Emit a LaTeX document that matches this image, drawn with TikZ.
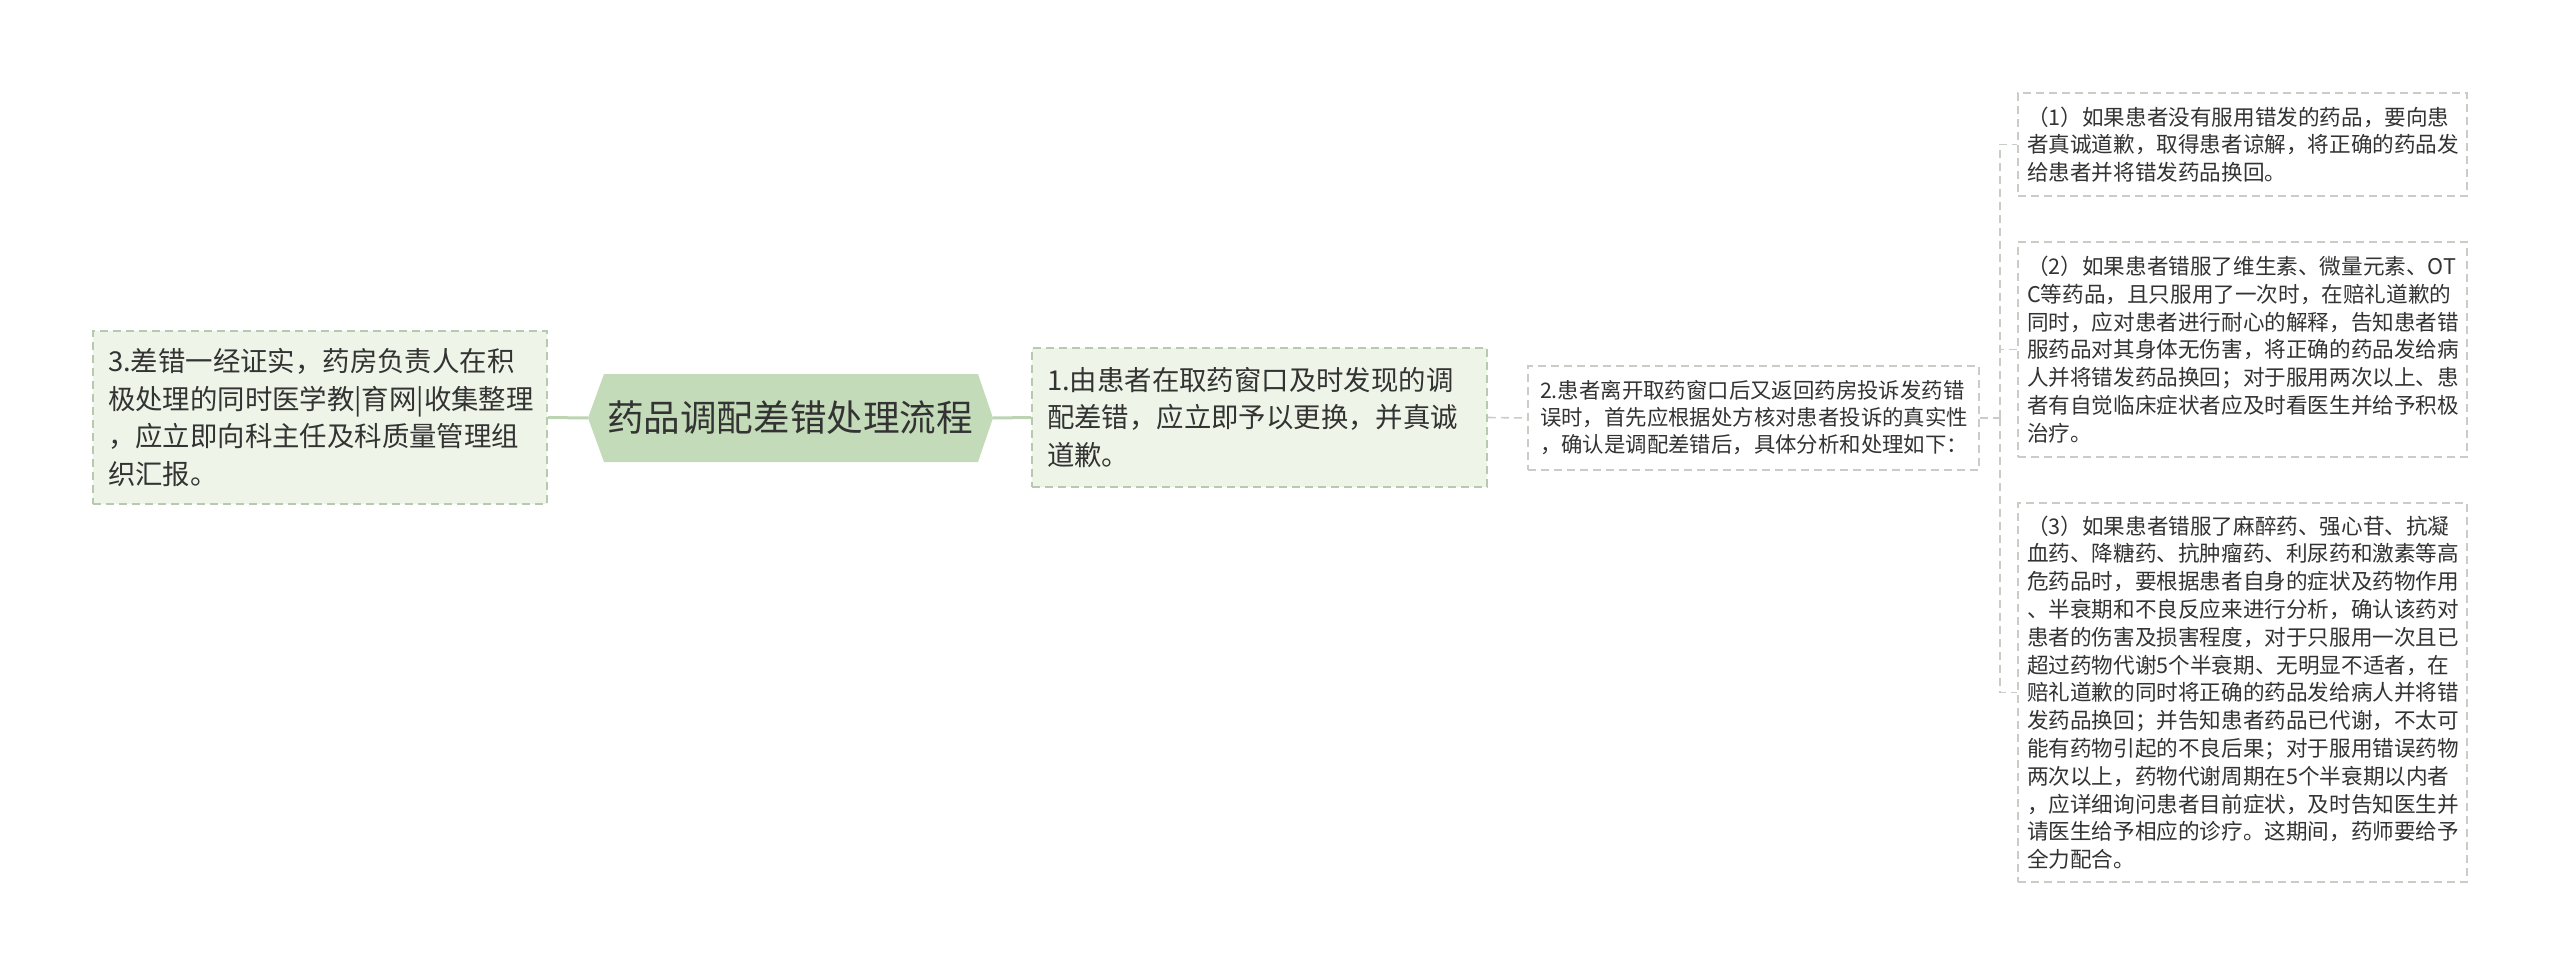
\documentclass[tikz,border=0pt]{standalone}
\usepackage{fontspec}
\setmainfont{Noto Sans CJK SC}
\definecolor{rootfill}{HTML}{C3DBB9}
\definecolor{leaffill}{HTML}{EEF5E8}
\definecolor{leafline}{HTML}{B7C9AF}
\definecolor{thinline}{HTML}{C8CEC5}
\definecolor{textgray}{HTML}{333333}
\definecolor{linkgreen}{HTML}{BCD4B2}
\begin{document}
\begin{tikzpicture}[x=0.5pt,y=-0.5pt,
    every node/.style={text=textgray},
    greenbox/.style={draw=leafline,fill=leaffill,dash pattern=on 4pt off 2.5pt,line width=0.8pt,
        align=left,inner xsep=7.5pt,inner ysep=0pt,font=\fontsize{13.7pt}{18.8pt}\selectfont},
    whitebox/.style={draw=thinline,fill=white,dash pattern=on 4pt off 2.5pt,line width=0.8pt,
        align=left,inner xsep=4.5pt,inner ysep=0pt,font=\fontsize{10.8pt}{13.9pt}\selectfont},
    mainlink/.style={draw=linkgreen,line width=1.5pt},
    sublink/.style={draw=thinline,line width=0.8pt,dash pattern=on 4pt off 2.5pt}]
    \useasboundingbox (0,0) rectangle (2560,974);

    \path[coordinate] (588,418)  coordinate(rootL)
                ++(16,-44) coordinate(A)
                ++(374,0) coordinate(B)
                ++(15,44) coordinate(rootR)
                ++(-15,44) coordinate(C)
                ++(-374,0) coordinate(D);
    \fill[rootfill] (rootL) -- (A) -- (B) -- (rootR) -- (C) -- (D) -- cycle;
    \node[font=\fontsize{18.3pt}{22pt}\selectfont] (root) at (790,418) {药品调配差错处理流程};

    \node[greenbox,text width=212pt,minimum height=86.5pt] (err3) at (320,417.5)
        {3.差错一经证实，药房负责人在积\\极处理的同时医学教|育网|收集整理\\，应立即向科主任及科质量管理组\\织汇报。};
    \node[greenbox,text width=212.5pt,minimum height=69.5pt] (err1) at (1259.5,417.5)
        {1.由患者在取药窗口及时发现的调\\配差错，应立即予以更换，并真诚\\道歉。};
    \node[whitebox,inner xsep=6pt,text width=213.5pt,minimum height=52pt,
          font=\fontsize{10.7pt}{13.5pt}\selectfont] (err2) at (1753.5,418)
        {2.患者离开取药窗口后又返回药房投诉发药错\\误时，首先应根据处方核对患者投诉的真实性\\，确认是调配差错后，具体分析和处理如下：};

    \node[whitebox,text width=215.5pt,minimum height=51.5pt] (case1) at (2242.5,144.5)
        {（1）如果患者没有服用错发的药品，要向患\\者真诚道歉，取得患者谅解，将正确的药品发\\给患者并将错发药品换回。};
    \node[whitebox,text width=215.5pt,minimum height=107.5pt] (case2) at (2242.5,349.5)
        {（2）如果患者错服了维生素、微量元素、OT\\C等药品，且只服用了一次时，在赔礼道歉的\\同时，应对患者进行耐心的解释，告知患者错\\服药品对其身体无伤害，将正确的药品发给病\\人并将错发药品换回；对于服用两次以上、患\\者有自觉临床症状者应及时看医生并给予积极\\治疗。};
    \node[whitebox,text width=215.5pt,minimum height=189.5pt] (case3) at (2242.5,692.5)
        {（3）如果患者错服了麻醉药、强心苷、抗凝\\血药、降糖药、抗肿瘤药、利尿药和激素等高\\危药品时，要根据患者自身的症状及药物作用\\、半衰期和不良反应来进行分析，确认该药对\\患者的伤害及损害程度，对于只服用一次且已\\超过药物代谢5个半衰期、无明显不适者，在\\赔礼道歉的同时将正确的药品发给病人并将错\\发药品换回；并告知患者药品已代谢，不太可\\能有药物引起的不良后果；对于服用错误药物\\两次以上，药物代谢周期在5个半衰期以内者\\，应详细询问患者目前症状，及时告知医生并\\请医生给予相应的诊疗。这期间，药师要给予\\全力配合。};

    \draw[mainlink] (err3.east) -- (rootL);
    \draw[mainlink] (rootR) -- (err1.west);
    \draw[sublink] (err1.east) -- (err2.west);
    \draw[sublink] (err2.east) -- ++(20,0) coordinate(fork);
    \foreach \k in {case1,case2,case3}
        \draw[sublink] (fork) |- (\k.west);
\end{tikzpicture}
\end{document}
